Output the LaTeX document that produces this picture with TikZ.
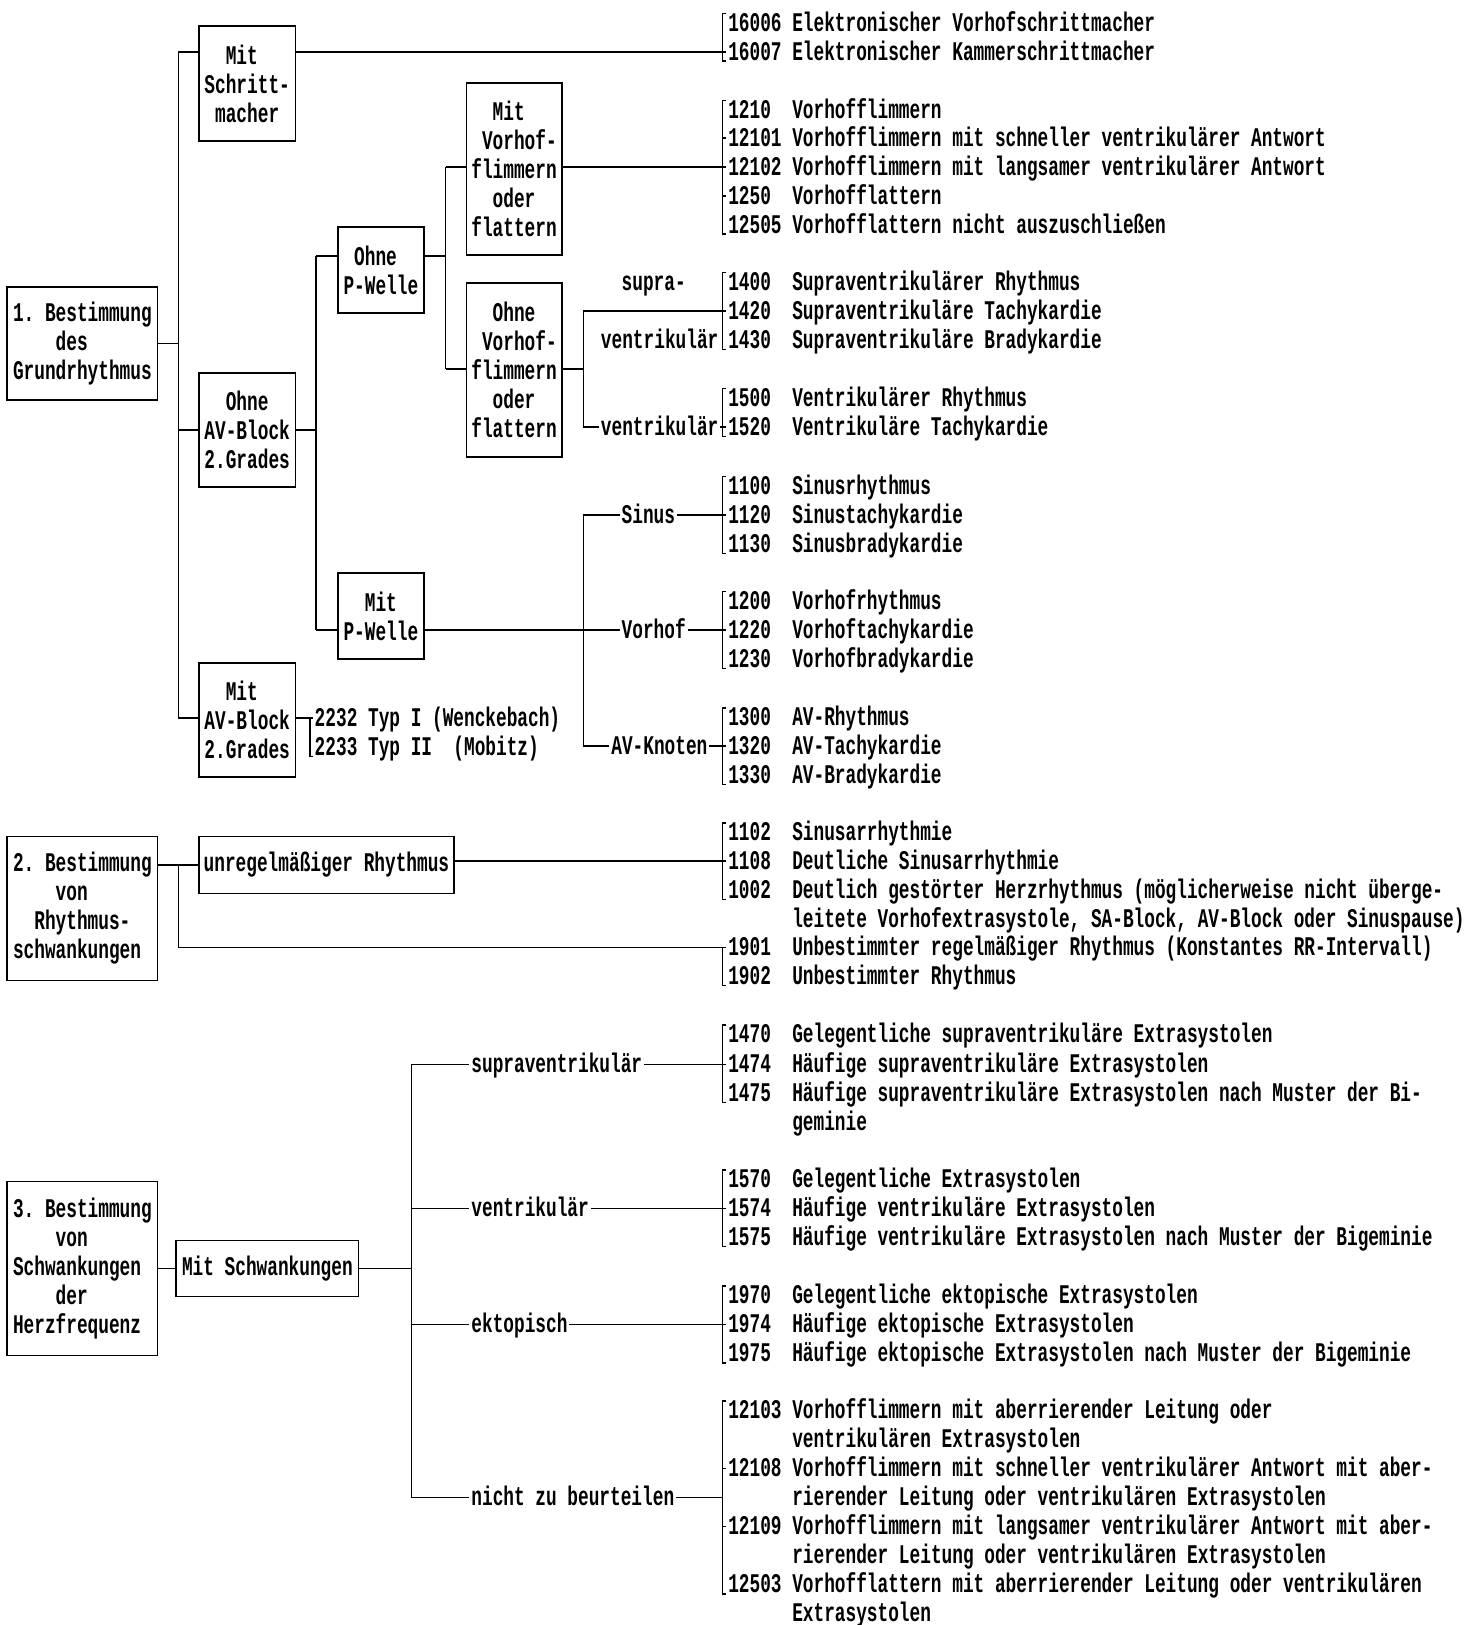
\documentclass[tikz,border=0pt]{standalone}
\usepackage{fontspec}
\usetikzlibrary{calc}
\newfontfamily\monofam[FakeStretch=0.66]{Liberation Mono}
\newcommand\tf{\monofam\bfseries\fontsize{13}{14}\selectfont}
\newlength\cw
\newcommand\ind[1]{\hspace*{#1\cw}}
\newcommand\nr[1]{\makebox[6\cw][l]{#1}}
\frenchspacing
\begin{document}
\settowidth{\cw}{\tf 0}
\begin{tikzpicture}[x=0.5pt,y=-0.5pt,
  line width=0.7pt,
  box/.style={draw, line width=0.8pt, inner sep=0pt, font=\tf, align=left},
  item/.style={anchor=west, inner sep=0pt, font=\tf, text height=10pt, text depth=2pt},
  lab/.style={anchor=west, inner sep=0.6pt, font=\tf, text height=10pt, text depth=2pt}]
\useasboundingbox (0,0) rectangle (1425,1568);
\newcommand\brk[2]{\draw ($(#1.west)+(-1,-9)$) -- ($(#1.west)+(-5,-9)$) -- ($(#2.west)+(-5,9)$) -- ($(#2.west)+(-1,9)$);}
\newcommand\tk[1]{\draw ($(#1.west)+(-5,0)$) -- ($(#1.west)+(-1,0)$);}

% ---------- boxes ----------
\node[box, minimum width=72.5pt, minimum height=54.5pt] (b1) at (79.5,331.5) {1. Bestimmung\\\ind{4}des\\Grundrhythmus};
\node[box, minimum width=46.5pt, minimum height=55.5pt] (bSchr) at (238.5,80.5) {\ind{2}Mit\\Schritt-\\\ind{1}macher};
\node[box, minimum width=46.5pt, minimum height=55pt] (bOAV) at (238.5,415) {\ind{2}Ohne\\AV-Block\\2.Grades};
\node[box, minimum width=46.5pt, minimum height=55pt] (bMAV) at (238.5,695) {\ind{2}Mit\\AV-Block\\2.Grades};
\node[box, minimum width=41.5pt, minimum height=41.5pt] (bOP) at (367.5,260.5) {\ind{1}Ohne\\P-Welle};
\node[box, minimum width=41.5pt, minimum height=41.5pt] (bMP) at (367.5,594.5) {\ind{2}Mit\\P-Welle};
\node[box, minimum width=46pt, minimum height=83pt] (bMVF) at (496,163) {\ind{2}Mit\\\ind{1}Vorhof-\\flimmern\\\ind{2}oder\\flattern};
\node[box, minimum width=46pt, minimum height=84pt] (bOVF) at (496,357) {\ind{2}Ohne\\\ind{1}Vorhof-\\flimmern\\\ind{2}oder\\flattern};
\node[box, minimum width=72.5pt, minimum height=69.5pt] (b2) at (79.5,876.5) {2. Bestimmung\\\ind{4}von\\\ind{2}Rhythmus-\\schwankungen};
\node[box, minimum width=123pt, minimum height=27.5pt] (bUR) at (315,834.5) {unregelmäßiger Rhythmus};
\node[box, minimum width=72.5pt, minimum height=84pt] (b3) at (79.5,1224) {3. Bestimmung\\\ind{4}von\\Schwankungen\\\ind{4}der\\Herzfrequenz};
\node[box, minimum width=88pt, minimum height=27pt] (bMS) at (258,1224) {Mit Schwankungen};

% ---------- list items ----------
\node[item] (i16006) at (702,22) {\nr{16006}Elektronischer Vorhofschrittmacher};
\node[item] (i16007) at (702,50) {\nr{16007}Elektronischer Kammerschrittmacher};
\node[item] (i1210) at (702,106) {\nr{1210}Vorhofflimmern};
\node[item] (i12101) at (702,133) {\nr{12101}Vorhofflimmern mit schneller ventrikulärer Antwort};
\node[item] (i12102) at (702,161) {\nr{12102}Vorhofflimmern mit langsamer ventrikulärer Antwort};
\node[item] (i1250) at (702,189) {\nr{1250}Vorhofflattern};
\node[item] (i12505) at (702,217) {\nr{12505}Vorhofflattern nicht auszuschließen};
\node[item] (i1400) at (702,272) {\nr{1400}Supraventrikulärer Rhythmus};
\node[item] (i1420) at (702,300) {\nr{1420}Supraventrikuläre Tachykardie};
\node[item] (i1430) at (702,328) {\nr{1430}Supraventrikuläre Bradykardie};
\node[item] (i1500) at (702,384) {\nr{1500}Ventrikulärer Rhythmus};
\node[item] (i1520) at (702,412) {\nr{1520}Ventrikuläre Tachykardie};
\node[item] (i1100) at (702,469) {\nr{1100}Sinusrhythmus};
\node[item] (i1120) at (702,497) {\nr{1120}Sinustachykardie};
\node[item] (i1130) at (702,525) {\nr{1130}Sinusbradykardie};
\node[item] (i1200) at (702,580) {\nr{1200}Vorhofrhythmus};
\node[item] (i1220) at (702,608) {\nr{1220}Vorhoftachykardie};
\node[item] (i1230) at (702,636) {\nr{1230}Vorhofbradykardie};
\node[item] (i1300) at (702,692) {\nr{1300}AV-Rhythmus};
\node[item] (i1320) at (702,720) {\nr{1320}AV-Tachykardie};
\node[item] (i1330) at (702,748) {\nr{1330}AV-Bradykardie};
\node[item] (i2232) at (303,693) {2232 Typ I (Wenckebach)};
\node[item] (i2233) at (303,721) {2233 Typ II\ind{2}(Mobitz)};
\node[item] (i1102) at (702,803) {\nr{1102}Sinusarrhythmie};
\node[item] (i1108) at (702,831) {\nr{1108}Deutliche Sinusarrhythmie};
\node[item] (i1002) at (702,859) {\nr{1002}Deutlich gestörter Herzrhythmus (möglicherweise nicht überge-};
\node[item] (i1002b) at (702,887) {\nr{}leitete Vorhofextrasystole, SA-Block, AV-Block oder Sinuspause)};
\node[item] (i1901) at (702,914) {\nr{1901}Unbestimmter regelmäßiger Rhythmus (Konstantes RR-Intervall)};
\node[item] (i1902) at (702,942) {\nr{1902}Unbestimmter Rhythmus};
\node[item] (i1470) at (702,998) {\nr{1470}Gelegentliche supraventrikuläre Extrasystolen};
\node[item] (i1474) at (702,1027) {\nr{1474}Häufige supraventrikuläre Extrasystolen};
\node[item] (i1475) at (702,1055) {\nr{1475}Häufige supraventrikuläre Extrasystolen nach Muster der Bi-};
\node[item] (i1475b) at (702,1083) {\nr{}geminie};
\node[item] (i1570) at (702,1138) {\nr{1570}Gelegentliche Extrasystolen};
\node[item] (i1574) at (702,1166) {\nr{1574}Häufige ventrikuläre Extrasystolen};
\node[item] (i1575) at (702,1194) {\nr{1575}Häufige ventrikuläre Extrasystolen nach Muster der Bigeminie};
\node[item] (i1970) at (702,1250) {\nr{1970}Gelegentliche ektopische Extrasystolen};
\node[item] (i1974) at (702,1278) {\nr{1974}Häufige ektopische Extrasystolen};
\node[item] (i1975) at (702,1306) {\nr{1975}Häufige ektopische Extrasystolen nach Muster der Bigeminie};
\node[item] (i12103) at (702,1361) {\nr{12103}Vorhofflimmern mit aberrierender Leitung oder};
\node[item] (i12103b) at (702,1389) {\nr{}ventrikulären Extrasystolen};
\node[item] (i12108) at (702,1417) {\nr{12108}Vorhofflimmern mit schneller ventrikulärer Antwort mit aber-};
\node[item] (i12108b) at (702,1445) {\nr{}rierender Leitung oder ventrikulären Extrasystolen};
\node[item] (i12109) at (702,1473) {\nr{12109}Vorhofflimmern mit langsamer ventrikulärer Antwort mit aber-};
\node[item] (i12109b) at (702,1501) {\nr{}rierender Leitung oder ventrikulären Extrasystolen};
\node[item] (i12503) at (702,1529) {\nr{12503}Vorhofflattern mit aberrierender Leitung oder ventrikulären};
\node[item] (i12503b) at (702,1557) {\nr{}Extrasystolen};

% ---------- branch labels ----------
\node[lab] (lsu1) at (598,272) {supra-};
\node[lab] (lsu2) at (578,328) {ventrikulär};
\node[lab] (lv1) at (578,412) {ventrikulär};
\node[lab] (lsin) at (598,497) {Sinus};
\node[lab] (lvor) at (598,608) {Vorhof};
\node[lab] (lavk) at (588,720) {AV-Knoten};
\node[lab] (lsv) at (453,1027) {supraventrikulär};
\node[lab] (lv2) at (453,1166) {ventrikulär};
\node[lab] (lek) at (453,1278) {ektopisch};
\node[lab] (lnz) at (453,1445) {nicht zu beurteilen};

% ---------- brackets ----------
\brk{i16006}{i16007}
\brk{i1210}{i12505} \tk{i12101} \tk{i12102} \tk{i1250}
\brk{i1400}{i1430} \tk{i1420}
\brk{i1500}{i1520}
\brk{i1100}{i1130} \tk{i1120}
\brk{i1200}{i1230} \tk{i1220}
\brk{i1300}{i1330} \tk{i1320}
\draw ($(i2232.west)+(-4,0)$) -- ($(i2233.west)+(-4,9)$) -- ($(i2233.west)+(-1,9)$);
\brk{i1102}{i1002} \tk{i1108}
\draw ($(i1901.west)+(-5,0)$) -- ($(i1902.west)+(-5,9)$) -- ($(i1902.west)+(-1,9)$);
\brk{i1470}{i1475} \tk{i1474}
\brk{i1570}{i1575} \tk{i1574}
\brk{i1970}{i1975} \tk{i1974}
\brk{i12103}{i12503} \tk{i12108} \tk{i12109}

% ---------- tree 1 ----------
\coordinate (t1) at (172,50);
\coordinate (t1b) at (172,693);
\draw (b1.east) -- (b1.east -| t1);
\draw (t1) -- (t1b);
\draw (t1) -- (t1 -| bSchr.west);
\draw (bOAV.west) -- (bOAV.west -| t1);
\draw (t1b) -- (t1b -| bMAV.west);
\draw (bSchr.east |- i16007.west) -- ($(i16007.west)+(-1,0)$);
\draw (bMAV.east |- i2232.west) -- ($(i2232.west)+(-1,0)$);

\coordinate (t2) at (305,247);
\coordinate (t2b) at (305,608);
\draw (bOAV.east) -- (bOAV.east -| t2);
\draw (t2) -- (t2b);
\draw (t2) -- (t2 -| bOP.west);
\draw (t2b) -- (t2b -| bMP.west);

\coordinate (t3) at (430,161);
\coordinate (t3b) at (430,356);
\draw (t2 -| bOP.east) -- (t2 -| t3);
\draw (t3) -- (t3b);
\draw (t3) -- (t3 -| bMVF.west);
\draw (t3b) -- (t3b -| bOVF.west);
\draw (t3 -| bMVF.east) -- ($(i12102.west)+(-1,0)$);

\coordinate (t4) at (563,300);
\coordinate (t4b) at (563,412);
\draw (t3b -| bOVF.east) -- (t3b -| t4);
\draw (t4) -- (t4b);
\draw (t4) -- ($(i1420.west)+(-1,0)$);
\draw (t4b) -- (lv1.west);
\draw (lv1.east) -- ($(i1520.west)+(-1,0)$);

\coordinate (t5) at (563,497);
\coordinate (t5b) at (563,720);
\draw (t2b -| bMP.east) -- (lvor.west);
\draw (lvor.east) -- ($(i1220.west)+(-1,0)$);
\draw (t5) -- (t5b);
\draw (t5) -- (lsin.west);
\draw (lsin.east) -- ($(i1120.west)+(-1,0)$);
\draw (t5b) -- (lavk.west);
\draw (lavk.east) -- ($(i1320.west)+(-1,0)$);

% ---------- tree 2 ----------
\coordinate (t6) at (172,914);
\draw (bUR.west -| b2.east) -- (bUR.west);
\draw (t6 |- bUR.west) -- (t6) -- ($(i1901.west)+(-1,0)$);
\draw (bUR.east |- i1108.west) -- ($(i1108.west)+(-1,0)$);

% ---------- tree 3 ----------
\coordinate (t7) at (397,1027);
\coordinate (t7b) at (397,1445);
\draw (b3.east) -- (bMS.west);
\draw (bMS.east) -- (bMS.east -| t7);
\draw (t7) -- (t7b);
\draw (t7) -- (lsv.west);
\draw (lsv.east) -- ($(i1474.west)+(-1,0)$);
\draw (lv2.west -| t7) -- (lv2.west);
\draw (lv2.east) -- ($(i1574.west)+(-1,0)$);
\draw (lek.west -| t7) -- (lek.west);
\draw (lek.east) -- ($(i1974.west)+(-1,0)$);
\draw (t7b) -- (lnz.west);
\draw (lnz.east) -- ($(i12108b.west)+(-5,0)$);
\end{tikzpicture}
\end{document}
